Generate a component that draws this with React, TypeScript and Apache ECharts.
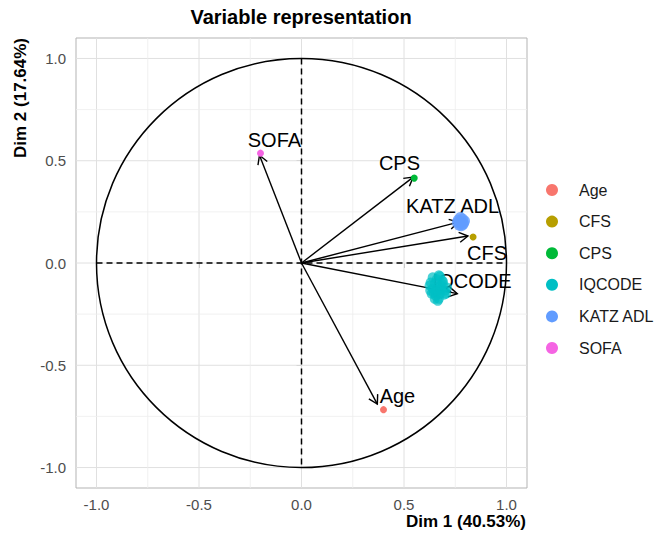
import React, { useEffect, useRef } from "react";
import * as echarts from "echarts";

// ---- data ----
const variables = ["Age", "CFS", "CPS", "IQCODE", "KATZ ADL", "SOFA"];
const colors = ["#F8766D", "#B79F00", "#00BA38", "#00BFC4", "#619CFF", "#F564E3"];

// arrow tips (Dim 1, Dim 2)
const arrowX = [0.37, 0.812, 0.545, 0.76, 0.765, -0.205];
const arrowY = [-0.69, 0.132, 0.42, -0.15, 0.2, 0.527];

// label anchors (Dim 1, Dim 2)
const labelX = [0.468, 0.905, 0.478, 0.832, 0.737, -0.132];
const labelY = [-0.65, 0.051, 0.491, -0.09, 0.279, 0.601];

// points of each variable
const ageX = [0.40];
const ageY = [-0.717];
const cfsX = [0.837];
const cfsY = [0.127];
const cpsX = [0.55];
const cpsY = [0.415];
const sofaX = [-0.20];
const sofaY = [0.537];
const iqX = [0.665, 0.650, 0.680, 0.640, 0.690, 0.660, 0.675, 0.630, 0.700, 0.655, 0.685, 0.645, 0.670, 0.695, 0.625, 0.660, 0.680, 0.650, 0.710, 0.640, 0.670, 0.690, 0.655, 0.675, 0.635, 0.665, 0.705, 0.628];
const iqY = [-0.117, -0.100, -0.130, -0.125, -0.105, -0.080, -0.150, -0.095, -0.135, -0.160, -0.085, -0.145, -0.060, -0.155, -0.110, -0.130, -0.110, -0.175, -0.120, -0.070, -0.175, -0.090, -0.140, -0.065, -0.150, -0.185, -0.150, -0.135];
const katzX = [0.778, 0.765, 0.790, 0.770, 0.785, 0.760, 0.795, 0.775, 0.780, 0.768, 0.788];
const katzY = [0.200, 0.210, 0.195, 0.185, 0.215, 0.198, 0.205, 0.222, 0.182, 0.200, 0.190];

const majorTicks = [-1, -0.5, 0, 0.5, 1];
const minorTicks = [-0.75, -0.25, 0.25, 0.75];
const axisMin = -1.1;
const axisMax = 1.1;

const xTitle = "Dim 1 (40.53%)";
const yTitle = "Dim 2 (17.64%)";
const chartTitle = "Variable representation";

const FONT = "Liberation Sans, Arial, Helvetica, sans-serif";

export default function App() {
  const ref = useRef<HTMLDivElement>(null);

  useEffect(() => {
    document.body.style.margin = "0";
    if (!ref.current) return;
    const chart = echarts.init(ref.current, undefined, { renderer: "svg" });

    const pointSets: [number[], number[]][] = [
      [ageX, ageY],
      [cfsX, cfsY],
      [cpsX, cpsY],
      [iqX, iqY],
      [katzX, katzY],
      [sofaX, sofaY],
    ];
    const sizes = [7, 7, 7, 10, 11, 7];
    const opac = [1, 1, 1, 0.7, 0.8, 1];

    const gridData = [
      ...majorTicks.map((v) => [v, 0, 1]),
      ...minorTicks.map((v) => [v, 0, 0]),
    ];

    const scatterSeries = variables.map((name, i) => ({
      name,
      type: "scatter",
      z: 10,
      symbol: "circle",
      symbolSize: sizes[i],
      itemStyle: { color: colors[i], opacity: opac[i] },
      data: pointSets[i][0].map((x, j) => [x, pointSets[i][1][j]]),
      silent: true,
    }));

    const option: any = {
      animation: false,
      backgroundColor: "#ffffff",
      textStyle: { fontFamily: FONT },
      grid: {
        left: 76,
        right: 138,
        top: 38,
        bottom: 49,
        show: true,
        borderColor: "#b3b3b3",
        borderWidth: 1,
        backgroundColor: "transparent",
      },
      xAxis: {
        type: "value",
        min: axisMin,
        max: axisMax,
        axisLine: { show: false },
        splitLine: { show: false },
        axisTick: {
          show: true,
          customValues: majorTicks,
          length: 5,
          lineStyle: { color: "#b3b3b3" },
        },
        axisLabel: {
          customValues: majorTicks,
          formatter: (v: number) => v.toFixed(1),
          color: "#4d4d4d",
          fontSize: 15,
          fontFamily: FONT,
          margin: 9,
        },
      },
      yAxis: {
        type: "value",
        min: axisMin,
        max: axisMax,
        axisLine: { show: false },
        splitLine: { show: false },
        axisTick: {
          show: true,
          customValues: majorTicks,
          length: 5,
          lineStyle: { color: "#b3b3b3" },
        },
        axisLabel: {
          customValues: majorTicks,
          formatter: (v: number) => v.toFixed(1),
          color: "#4d4d4d",
          fontSize: 15,
          fontFamily: FONT,
          margin: 10,
        },
      },
      legend: {
        orient: "vertical",
        left: 541,
        top: 177,
        icon: "circle",
        itemWidth: 12,
        itemHeight: 12,
        itemGap: 15.6,
        data: variables,
        itemStyle: { opacity: 1 },
        textStyle: {
          fontSize: 16,
          lineHeight: 16,
          color: "#1a1a1a",
          fontFamily: FONT,
          padding: [0, 0, 0, 16],
        },
      },
      graphic: [
        {
          type: "text",
          x: 301,
          y: 17,
          style: {
            text: chartTitle,
            fontSize: 20,
            fontWeight: "bold",
            fontFamily: FONT,
            fill: "#000",
            textAlign: "center",
            textVerticalAlign: "middle",
          },
        },
        {
          type: "text",
          x: 526,
          y: 521,
          style: {
            text: xTitle,
            fontSize: 17,
            fontWeight: "bold",
            fontFamily: FONT,
            fill: "#000",
            textAlign: "right",
            textVerticalAlign: "middle",
          },
        },
        {
          type: "text",
          x: 20,
          y: 38,
          rotation: Math.PI / 2,
          style: {
            text: yTitle,
            fontSize: 17,
            fontWeight: "bold",
            fontFamily: FONT,
            fill: "#000",
            textAlign: "right",
            textVerticalAlign: "middle",
          },
        },
      ],
      series: [
        {
          type: "custom",
          name: "grid",
          z: 1,
          silent: true,
          data: gridData,
          renderItem: (params: any, api: any) => {
            const v = api.value(0);
            const major = api.value(2) === 1;
            const a = api.coord([v, axisMin]);
            const b = api.coord([v, axisMax]);
            const c = api.coord([axisMin, v]);
            const d = api.coord([axisMax, v]);
            const style = {
              stroke: major ? "#e0e0e0" : "#ededed",
              lineWidth: major ? 1 : 0.8,
            };
            return {
              type: "group",
              children: [
                { type: "line", shape: { x1: a[0], y1: a[1], x2: b[0], y2: b[1] }, style },
                { type: "line", shape: { x1: c[0], y1: c[1], x2: d[0], y2: d[1] }, style },
              ],
            };
          },
        },
        {
          type: "custom",
          name: "circle",
          z: 2,
          silent: true,
          data: [[0, 0]],
          renderItem: (params: any, api: any) => {
            const c = api.coord([0, 0]);
            const s = api.size([1, 1]);
            const l = api.coord([-1, 0]);
            const r = api.coord([1, 0]);
            const t = api.coord([0, 1]);
            const bt = api.coord([0, -1]);
            const dash = { stroke: "#000", lineWidth: 1.5, lineDash: [6, 4], fill: "none" };
            return {
              type: "group",
              children: [
                {
                  type: "ellipse",
                  shape: { cx: c[0], cy: c[1], rx: s[0], ry: s[1] },
                  style: { stroke: "#000", lineWidth: 1.5, fill: "none" },
                },
                { type: "line", shape: { x1: l[0], y1: l[1], x2: r[0], y2: r[1] }, style: dash },
                { type: "line", shape: { x1: t[0], y1: t[1], x2: bt[0], y2: bt[1] }, style: dash },
              ],
            };
          },
        },
        {
          type: "custom",
          name: "arrows",
          z: 3,
          silent: true,
          data: arrowX.map((x, i) => [x, arrowY[i]]),
          renderItem: (params: any, api: any) => {
            const o = api.coord([0, 0]);
            const p = api.coord([api.value(0), api.value(1)]);
            const ang = Math.atan2(p[1] - o[1], p[0] - o[0]);
            const L = 10;
            const a = Math.PI / 6;
            const h1 = [p[0] - L * Math.cos(ang - a), p[1] - L * Math.sin(ang - a)];
            const h2 = [p[0] - L * Math.cos(ang + a), p[1] - L * Math.sin(ang + a)];
            return {
              type: "group",
              children: [
                {
                  type: "line",
                  shape: { x1: o[0], y1: o[1], x2: p[0], y2: p[1] },
                  style: { stroke: "#000", lineWidth: 1.4 },
                },
                {
                  type: "polyline",
                  shape: { points: [h1, p, h2] },
                  style: { stroke: "#000", lineWidth: 1.4, fill: "none" },
                },
              ],
            };
          },
        },
        {
          type: "custom",
          name: "labels",
          z: 5,
          silent: true,
          data: labelX.map((x, i) => [x, labelY[i], i]),
          renderItem: (params: any, api: any) => {
            const p = api.coord([api.value(0), api.value(1)]);
            const idx = api.value(2);
            return {
              type: "text",
              x: p[0],
              y: p[1],
              style: {
                text: variables[idx],
                fontSize: 20,
                fontFamily: FONT,
                fill: "#000",
                textAlign: "center",
                textVerticalAlign: "middle",
              },
            };
          },
        },
        ...scatterSeries,
      ],
    };

    chart.setOption(option);
    return () => {
      chart.dispose();
    };
  }, []);

  return <div ref={ref} style={{ width: 665, height: 537 }} />;
}
